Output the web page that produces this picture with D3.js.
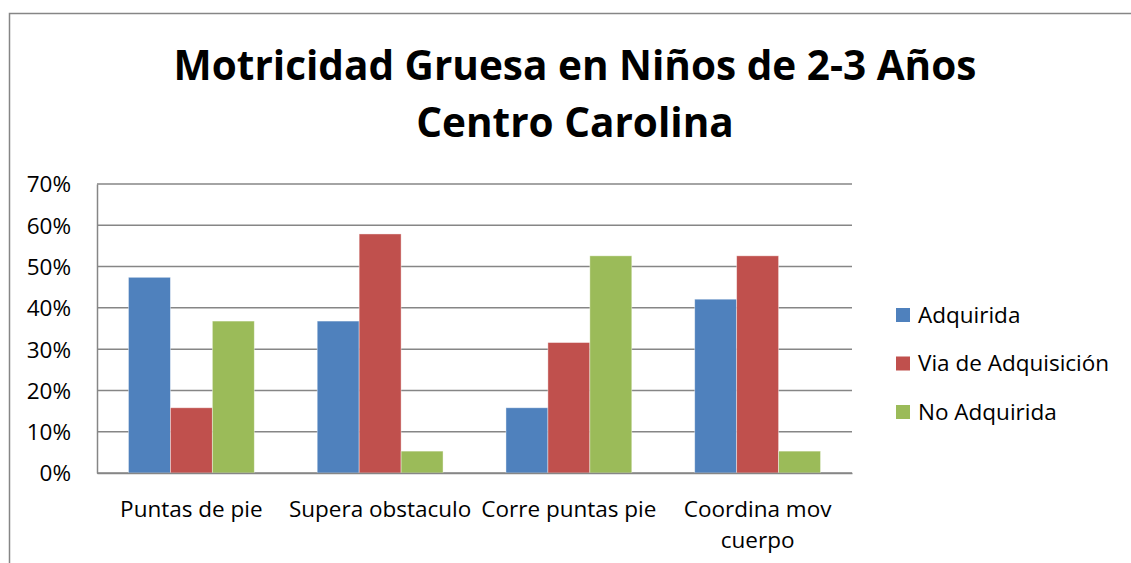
<!DOCTYPE html>
<html>
<head>
<meta charset="utf-8">
<script src="https://cdn.jsdelivr.net/npm/d3@7"></script>
<style>
  body { margin: 0; background: #fff; }
  text { font-family: "Open Sans", "Noto Sans", sans-serif; fill: #000; }
</style>
</head>
<body>
<div id="chart"></div>
<script>
// data
var categories = ["Puntas de pie", "Supera obstaculo", "Corre puntas pie", "Coordina mov cuerpo"];
var series = ["Adquirida", "Via de Adquisición", "No Adquirida"];
var adquirida = [0.474, 0.368, 0.158, 0.421];
var viaAdquisicion = [0.158, 0.579, 0.316, 0.526];
var noAdquirida = [0.368, 0.053, 0.526, 0.053];
var yTicks = [0, 0.1, 0.2, 0.3, 0.4, 0.5, 0.6, 0.7];
var colors = ["#4F81BD", "#C0504D", "#9BBB59"];

var values = [adquirida, viaAdquisicion, noAdquirida];

var W = 1131, H = 563;
var margin = {top: 184, right: 279, bottom: 90, left: 97},
    width = W - margin.left - margin.right,
    height = H - margin.top - margin.bottom;

var svg = d3.select("#chart")
    .append("svg")
    .attr("width", W)
    .attr("height", H);

// outer chart border
svg.append("path")
    .attr("d", "M9.5," + H + "V13.5H" + W)
    .attr("fill", "none")
    .attr("stroke", "#868686")
    .attr("stroke-width", 1.5);

// title
var title = svg.append("text")
    .attr("text-anchor", "middle")
    .style("font-weight", "bold")
    .style("font-size", "40.5px");
title.append("tspan").attr("x", 575).attr("y", 80).text("Motricidad Gruesa en Niños de 2-3 Años");
title.append("tspan").attr("x", 575).attr("y", 137).text("Centro Carolina");

var g = svg.append("g")
    .attr("transform", "translate(" + margin.left + "," + margin.top + ")");

// scales
var x0 = d3.scaleBand()
    .domain(categories)
    .range([0, width])
    .padding(0);

var x1 = d3.scaleBand()
    .domain(series)
    .range([0, x0.bandwidth()])
    .paddingInner(0)
    .paddingOuter(0.75);

var y = d3.scaleLinear()
    .domain([0, 0.7])
    .range([height, 0]);

// gridlines
g.append("g")
    .selectAll("line")
    .data(yTicks)
    .enter()
    .append("line")
    .attr("x1", 0)
    .attr("x2", width)
    .attr("y1", function(d) { return y(d); })
    .attr("y2", function(d) { return y(d); })
    .attr("stroke", "#868686")
    .attr("stroke-width", 1.5);

// Y axis
var yAxis = g.append("g")
    .call(d3.axisLeft(y).tickValues(yTicks).tickFormat(d3.format(".0%")).tickSize(0).tickPadding(26));
yAxis.select(".domain").attr("stroke", "#868686").attr("stroke-width", 1.5);
yAxis.selectAll("text").style("font-size", "22.5px").attr("dy", "0.35em");

// bars
var groups = g.selectAll(".grp")
    .data(categories)
    .enter()
    .append("g")
    .attr("class", "grp")
    .attr("transform", function(d) { return "translate(" + x0(d) + ",0)"; });

groups.selectAll("rect")
    .data(function(d, i) {
        return series.map(function(s, j) { return {s: s, v: values[j][i], c: colors[j]}; });
    })
    .enter()
    .append("rect")
    .attr("x", function(d) { return x1(d.s); })
    .attr("y", function(d) { return y(d.v); })
    .attr("width", x1.bandwidth())
    .attr("height", function(d) { return height - y(d.v); })
    .attr("fill", function(d) { return d.c; })
    .attr("stroke", "#fff")
    .attr("stroke-opacity", 0.5)
    .attr("stroke-width", 0.8);

// X axis
var xAxis = g.append("g")
    .attr("transform", "translate(0," + height + ")")
    .call(d3.axisBottom(x0).tickSize(0).tickPadding(0));
xAxis.select(".domain").attr("stroke", "#868686").attr("stroke-width", 1.5);
xAxis.selectAll("text").remove();

// category labels (wrap long ones)
xAxis.selectAll(".tick")
    .append("text")
    .attr("text-anchor", "middle")
    .style("font-size", "22.5px")
    .each(function(d) {
        var t = d3.select(this);
        var lines = d.length > 17 ? [d.split(" ").slice(0, 2).join(" "), d.split(" ").slice(2).join(" ")] : [d];
        lines.forEach(function(l, i) {
            t.append("tspan").attr("x", 0).attr("y", 44 + i * 31).text(l);
        });
    });

// legend
var legend = svg.append("g")
    .attr("transform", "translate(896,315)");

var items = legend.selectAll("g")
    .data(series)
    .enter()
    .append("g")
    .attr("transform", function(d, i) { return "translate(0," + (i * 48.5) + ")"; });

items.append("rect")
    .attr("x", 0)
    .attr("y", -7)
    .attr("width", 14)
    .attr("height", 14)
    .attr("fill", function(d, i) { return colors[i]; });

items.append("text")
    .attr("x", 22)
    .attr("y", 0)
    .attr("dy", "0.35em")
    .style("font-size", "22.5px")
    .text(function(d) { return d; });
</script>
</body>
</html>
